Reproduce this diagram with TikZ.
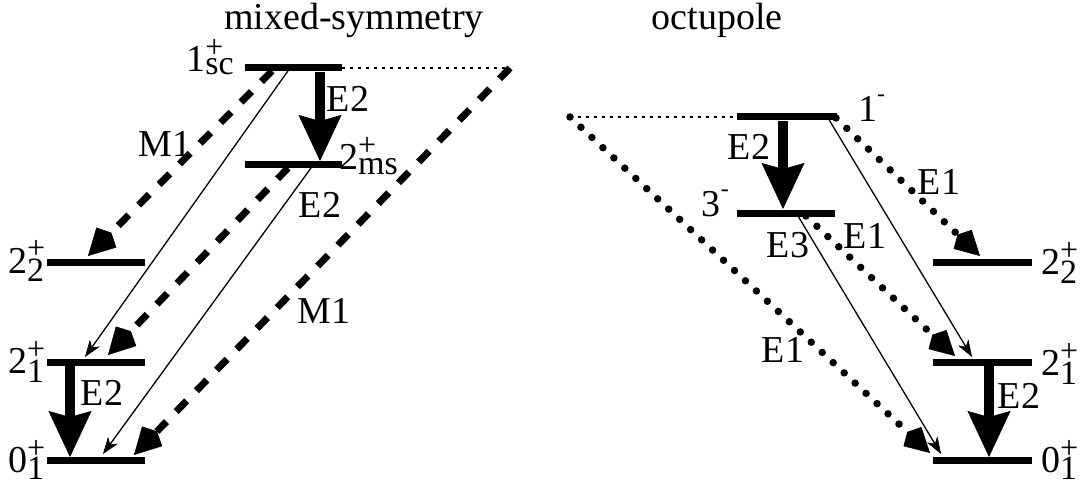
\documentclass[tikz,border=0pt]{standalone}
\usepackage{fontspec}
\setmainfont{Liberation Serif}
\usetikzlibrary{arrows.meta}
\newcommand{\stLev}[4][9pt]{#2\rlap{\raisebox{14pt}{\fontsize{32}{32}\selectfont #3}}\raisebox{-#1}{\fontsize{34}{34}\selectfont #4}}
\newcommand{\stMin}[1]{#1\raisebox{20pt}{\fontsize{24}{24}\selectfont -}}
\begin{document}
\begin{tikzpicture}[x=1pt,y=-1pt,
  lvl/.style={line width=7pt},
  big/.style={line width=10pt,-{Stealth[length=46pt,width=43pt,inset=6pt,line width=0.5pt]}},
  dsh/.style={line width=7pt,dash pattern=on 15pt off 14pt,-{Stealth[length=26pt,width=28pt,inset=-7pt,line width=0.5pt]}},
  dotl/.style={line width=7.5pt,line cap=round,dash pattern=on 0pt off 15pt,-{Stealth[length=24pt,width=26pt,inset=-7pt,line width=0.5pt]}},
  thinarr/.style={line width=1.3pt,-{Stealth[length=17pt,width=12pt,inset=5pt,line width=0.5pt]}},
  guide/.style={line width=2pt,dash pattern=on 3pt off 5pt},
  lab/.style={font=\fontsize{38}{40}\selectfont, inner sep=0pt}
]
\useasboundingbox (0,0) rectangle (1089,486);

% ---------- left: mixed-symmetry ----------
\coordinate (scL) at (245,68);  \coordinate (scR) at (342,68);
\coordinate (msL) at (245,165); \coordinate (msR) at (342,165);
\coordinate (l22L) at (47,263); \coordinate (l22R) at (145,263);
\coordinate (l21L) at (47,362); \coordinate (l21R) at (145,362);
\coordinate (l01L) at (47,460); \coordinate (l01R) at (145,460);
\foreach \a/\b in {scL/scR,msL/msR,l22L/l22R,l21L/l21R,l01L/l01R}
  \draw[lvl] (\a) -- (\b);

\coordinate (gA) at (510,68);
\draw[guide] (scR) -- (gA);

\coordinate (a1s) at (320,72);  \coordinate (a1e) at (320,161);
\draw[big] (a1s) -- (a1e);
\coordinate (a2s) at (272,71);  \coordinate (a2e) at (88,256);
\draw[dsh] (a2s) -- (a2e);
\coordinate (a3s) at (290,68);  \coordinate (a3e) at (85,357);
\draw[thinarr] (a3s) -- (a3e);
\coordinate (a4s) at (288,168); \coordinate (a4e) at (108,355);
\draw[dsh] (a4s) -- (a4e);
\coordinate (a5s) at (311,168); \coordinate (a5e) at (103,454);
\draw[thinarr] (a5s) -- (a5e);
\coordinate (a6e) at (134,455);
\draw[dsh] (gA) -- (a6e);
\coordinate (a7s) at (70,366);  \coordinate (a7e) at (70,457);
\draw[big] (a7s) -- (a7e);

\node[lab,anchor=base] (tms) at (354,30) {mixed-symmetry};
\node[lab,anchor=base east] (nsc) at (234,72) {\stLev[3pt]{1}{+}{sc}};
\node[lab,anchor=base west] (nms) at (339,170) {\stLev[5pt]{2}{+}{ms}};
\node[lab,anchor=base west] (n22l) at (8,273) {\stLev{2}{+}{2}};
\node[lab,anchor=base west] (n21l) at (8,373) {\stLev{2}{+}{1}};
\node[lab,anchor=base west] (n01l) at (8,472) {\stLev[7pt]{0}{+}{1}};
\node[lab,anchor=base] (e2a) at (348,112) {E2};
\node[lab,anchor=base] (m1a) at (165,157) {M1};
\node[lab,anchor=base] (e2b) at (320,218) {E2};
\node[lab,anchor=base] (m1b) at (324,323) {M1};
\node[lab,anchor=base] (e2c) at (102,405) {E2};

% ---------- right: octupole ----------
\coordinate (o1L) at (737,117); \coordinate (o1R) at (837,117);
\coordinate (o3L) at (737,214); \coordinate (o3R) at (835,214);
\coordinate (r22L) at (933,263); \coordinate (r22R) at (1032,263);
\coordinate (r21L) at (933,362); \coordinate (r21R) at (1032,362);
\coordinate (r01L) at (933,460); \coordinate (r01R) at (1032,460);
\foreach \a/\b in {o1L/o1R,o3L/o3R,r22L/r22R,r21L/r21R,r01L/r01R}
  \draw[lvl] (\a) -- (\b);

\coordinate (gB) at (570,117);
\draw[guide] (gB) -- (o1L);
\coordinate (b1e) at (930,453);
\draw[dotl] (gB) -- (b1e);
\coordinate (b2s) at (783,121); \coordinate (b2e) at (783,209);
\draw[big] (b2s) -- (b2e);
\coordinate (b3s) at (836,118); \coordinate (b3e) at (980,256);
\draw[dotl] (b3s) -- (b3e);
\coordinate (b4s) at (828,118); \coordinate (b4e) at (972,357);
\draw[thinarr] (b4s) -- (b4e);
\coordinate (b5s) at (806,216); \coordinate (b5e) at (955,356);
\draw[dotl] (b5s) -- (b5e);
\coordinate (b6s) at (798,216); \coordinate (b6e) at (941,454);
\draw[thinarr] (b6s) -- (b6e);
\coordinate (b7s) at (989,366); \coordinate (b7e) at (989,457);
\draw[big] (b7s) -- (b7e);

\node[lab,anchor=base] (toc) at (717,30) {octupole};
\node[lab,anchor=base west] (n1m) at (858,122) {\stMin{1}};
\node[lab,anchor=base east] (n3m) at (729,217) {\stMin{3}};
\node[lab,anchor=base west] (n22r) at (1041,275) {\stLev{2}{+}{2}};
\node[lab,anchor=base west] (n21r) at (1041,375) {\stLev{2}{+}{1}};
\node[lab,anchor=base west] (n01r) at (1041,472) {\stLev[7pt]{0}{+}{1}};
\node[lab,anchor=base] (e2d) at (749,160) {E2};
\node[lab,anchor=base] (e1a) at (939,195) {E1};
\node[lab,anchor=base] (e1b) at (865,249) {E1};
\node[lab,anchor=base] (e3a) at (788,258) {E3};
\node[lab,anchor=base] (e1c) at (783,362) {E1};
\node[lab,anchor=base] (e2e) at (1019,408) {E2};
\end{tikzpicture}
\end{document}
